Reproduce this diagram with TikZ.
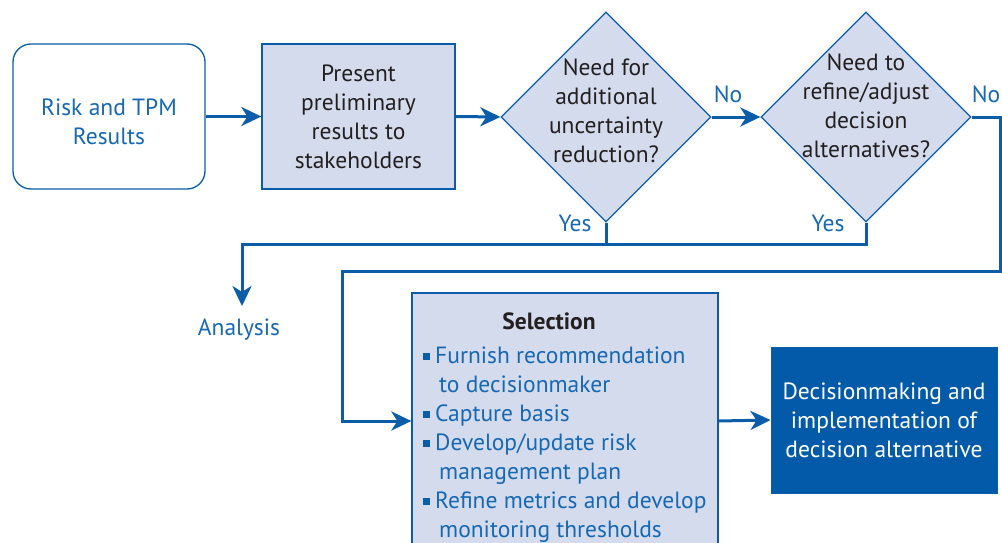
\documentclass[tikz,border=0pt]{standalone}
\usepackage{fontspec}
\setmainfont{PT Sans}
\usetikzlibrary{shapes.geometric,arrows.meta}
\definecolor{lblue}{HTML}{0B5DAA}
\definecolor{tblue}{HTML}{1668B3}
\definecolor{fillb}{HTML}{D4DBEC}
\definecolor{dark}{HTML}{231F20}
\definecolor{dblue}{HTML}{035AA8}
\newcommand\sqb{\textcolor{lblue}{\rule[3.5pt]{7pt}{7pt}}\hspace{5pt}}
\begin{document}
\begin{tikzpicture}[x=1pt,y=-1pt,
  txt/.style={font=\fontsize{23.5}{29}\selectfont, align=center, inner sep=0pt},
  conn/.style={draw=lblue, line width=3pt, -{Stealth[length=20pt,width=19pt,inset=6pt]}},
  plain/.style={draw=lblue, line width=3pt},
  pbox/.style={draw=lblue, line width=1.3pt, fill=fillb, inner sep=0pt},
  dia/.style={diamond, draw=lblue, line width=1.3pt, fill=fillb, inner sep=0pt, minimum width=210pt, minimum height=210pt},
  lab/.style={txt, text=tblue}
]
\useasboundingbox (0,0) rectangle (1002,543);
\fill[white] (0,0) rectangle (1002,543);

\node[draw=lblue, line width=1.3pt, rounded corners=18pt, minimum width=192pt, minimum height=145pt, inner sep=0pt] (risk) at (109,116.5) {};
\node[lab] (riskt) at (109,122) {Risk and TPM\\Results};

\node[pbox, minimum width=193pt, minimum height=145pt] (present) at (358.5,116.5) {};
\node[txt, text=dark] (presentt) at (358.5,117) {Present\\preliminary\\results to\\stakeholders};

\node[dia] (d1) at (606,117) {};
\node[txt, text=dark] (d1t) at (606,111) {Need for\\additional\\uncertainty\\reduction?};

\node[dia] (d2) at (866,117) {};
\node[txt, text=dark] (d2t) at (866,106) {Need to\\refine/adjust\\decision\\alternatives?};

\node[lab] (no1) at (728,94) {No};
\node[lab] (no2) at (986,94) {No};
\node[lab] (yes1) at (575,223) {Yes};
\node[lab] (yes2) at (828,223) {Yes};
\node[lab] (analysis) at (239,330) {Analysis};

\node[pbox, minimum width=306pt, minimum height=256pt] (sel) at (565,421) {};
\node[txt, text=dark, font=\fontsize{23.5}{29}\selectfont\bfseries] (selt) at (549,321) {Selection};
\node[txt, text=tblue, align=left, anchor=north west] (selb) at (423,347) {\sqb Furnish recommendation\\
\hspace*{16pt}to decisionmaker\\
\sqb Capture basis\\
\sqb Develop/update risk\\
\hspace*{16pt}management plan\\
\sqb Refine metrics and develop\\
\hspace*{16pt}monitoring thresholds};

\node[draw=lblue, line width=1pt, fill=dblue, minimum width=226pt, minimum height=146pt, inner sep=0pt] (dec) at (884,420) {};
\node[txt, text=white] (dect) at (884,420) {Decisionmaking and\\implementation of\\decision alternative};

\coordinate (aTip) at (242,306);
\draw[conn] (risk.east) -- (present.west |- risk.east);
\draw[conn] (present.east) -- (d1.west);
\draw[conn] (d1.east) -- (d2.west);
\draw[plain] (d1.south) -- (606,244);
\draw[conn] (d2.south) |- (242,244) -- (aTip);
\draw[conn] (d2.east) -- (1000,117) |- (342,271) |- (sel.west);
\draw[conn] (sel.east) -- (dec.west);
\end{tikzpicture}
\end{document}
